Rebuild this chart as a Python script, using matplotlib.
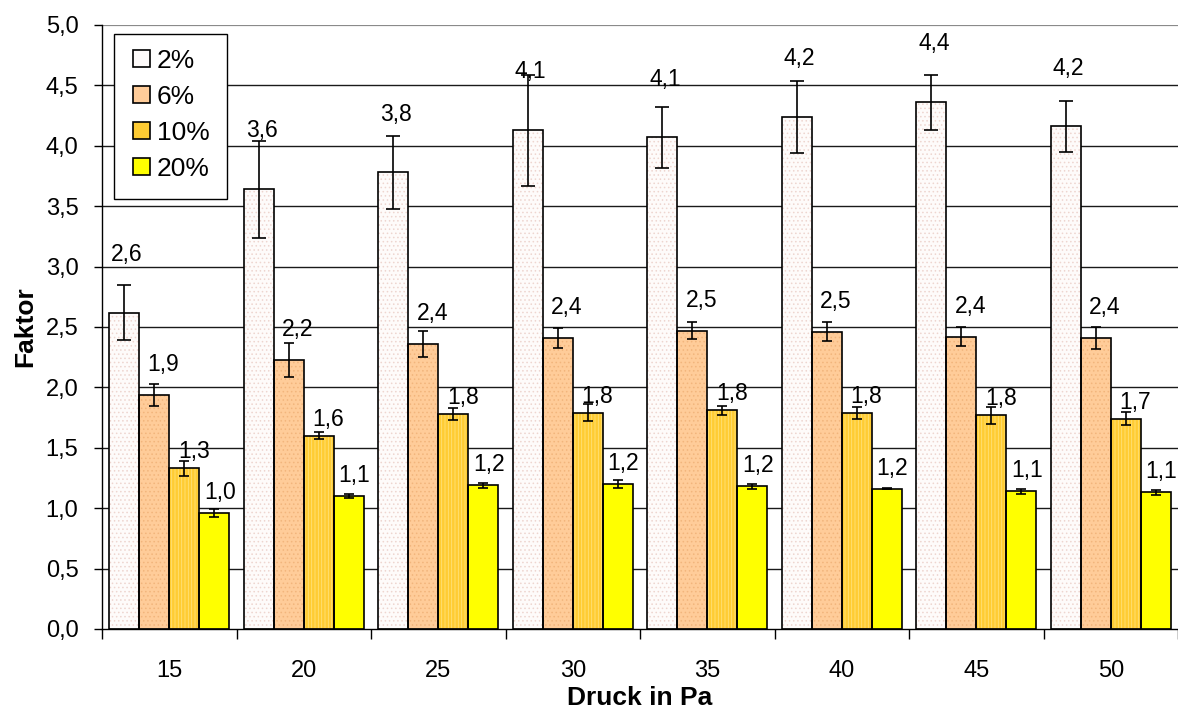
import numpy as np
import matplotlib
matplotlib.use("Agg")
import matplotlib.pyplot as plt
from matplotlib.patches import Patch, Rectangle

plt.rcParams['font.family'] = ['Liberation Sans', 'DejaVu Sans']
plt.rcParams['hatch.linewidth'] = 0.6

# Pressure levels (Pa) and concentration series
pressures = ["15", "20", "25", "30", "35", "40", "45", "50"]
series = ["2%", "6%", "10%", "20%"]

f2 = [2.62, 3.64, 3.78, 4.13, 4.07, 4.24, 4.36, 4.16]
e2 = [0.23, 0.40, 0.30, 0.46, 0.25, 0.30, 0.23, 0.21]
f6 = [1.94, 2.23, 2.36, 2.41, 2.47, 2.46, 2.42, 2.41]
e6 = [0.09, 0.14, 0.11, 0.08, 0.07, 0.08, 0.08, 0.09]
f10 = [1.33, 1.60, 1.78, 1.79, 1.81, 1.79, 1.77, 1.74]
e10 = [0.06, 0.03, 0.05, 0.07, 0.04, 0.05, 0.07, 0.055]
f20 = [0.96, 1.10, 1.19, 1.20, 1.18, 1.16, 1.14, 1.13]
e20 = [0.035, 0.015, 0.02, 0.03, 0.02, 0.005, 0.02, 0.02]

values = [f2, f6, f10, f20]
errors = [e2, e6, e10, e20]

# styling per series: face colour, hatch, hatch colour
faces = ["#fefbfa", "#ffcc99", "#ffcc33", "#ffff00"]
hatches = ["....", "....", "|||||", None]
hatch_cols = ["#eed5cf", "#f2b57c", "#ffe27a", None]
capsizes = [5, 3.5, 3.5, 3.5]
# text offsets (points) for value labels above each bar
lab_dx = [2, 6.5, 7, 4]
lab_dy = [42, 22, 12, 15]

fig = plt.figure(figsize=(11.78, 7.13), dpi=100)
ax = fig.add_axes([102 / 1178, 84 / 713, 1076 / 1178, 604 / 713])

x = np.arange(len(pressures))
w = 0.223
offsets = (np.arange(4) - 1.5) * w

# horizontal grid
for yv in np.arange(0.5, 5.01, 0.5):
    col = "#8a8a8a" if yv > 4.9 else "#1a1a1a"
    lw = 1.6 if yv > 4.9 else 1.0
    ax.axhline(yv, color=col, lw=lw, zorder=0)

for i in range(4):
    xi = x + offsets[i]
    if hatches[i] is not None:
        ax.bar(xi, values[i], w, color=faces[i], hatch=hatches[i],
               edgecolor=hatch_cols[i], linewidth=0, zorder=2)
    else:
        ax.bar(xi, values[i], w, color=faces[i], linewidth=0, zorder=2)
    ax.bar(xi, values[i], w, fill=False, edgecolor="black", linewidth=1.2, zorder=3)
    ax.errorbar(xi, values[i], yerr=errors[i], fmt="none", ecolor="black",
                elinewidth=1.2, capsize=capsizes[i], capthick=1.2, zorder=4)
    for xv, v in zip(xi, values[i]):
        ax.annotate(f"{v:.1f}".replace(".", ","), (xv, v),
                    xytext=(lab_dx[i], lab_dy[i]), textcoords="offset points",
                    ha="center", va="center", fontsize=16.5, zorder=5,
                    annotation_clip=False)

ax.set_xlim(-0.5, len(pressures) - 0.5)
ax.set_ylim(0, 5)
ax.set_yticks(np.arange(0, 5.01, 0.5))
ax.set_yticklabels([f"{t:.1f}".replace(".", ",") for t in np.arange(0, 5.01, 0.5)])
ax.set_xticks(np.arange(-0.5, len(pressures)), labels=[])
ax.set_xticks(x, labels=pressures, minor=True)
ax.tick_params(axis="x", which="major", length=7, width=1, direction="out")
ax.tick_params(axis="x", which="minor", length=0, pad=22, labelsize=17)
ax.tick_params(axis="y", length=6, width=1, direction="out", labelsize=17, pad=11)

for s in ["top", "right"]:
    ax.spines[s].set_visible(False)
ax.spines["left"].set_linewidth(1.0)
ax.spines["bottom"].set_linewidth(1.0)

ax.set_xlabel("Druck in Pa", fontsize=19, fontweight="bold", labelpad=3)
ax.set_ylabel("Faktor", fontsize=19, fontweight="bold", labelpad=6)

# legend frame drawn as a plain box
ax.add_patch(Rectangle((0.0112, 0.712), 0.105, 0.273, transform=ax.transAxes,
                       facecolor="white", edgecolor="black", linewidth=1.0,
                       zorder=6))
handles = [Patch(facecolor=faces[i], edgecolor="black", linewidth=1.2)
           for i in range(4)]
leg = ax.legend(handles, series, loc="upper left",
                bbox_to_anchor=(0.0288, 0.96), fontsize=19, frameon=False,
                handlelength=0.65, handleheight=0.6, handletextpad=0.25,
                labelspacing=0.45, borderpad=0, borderaxespad=0)
leg.set_zorder(7)

fig.savefig("out.png", dpi=100)
